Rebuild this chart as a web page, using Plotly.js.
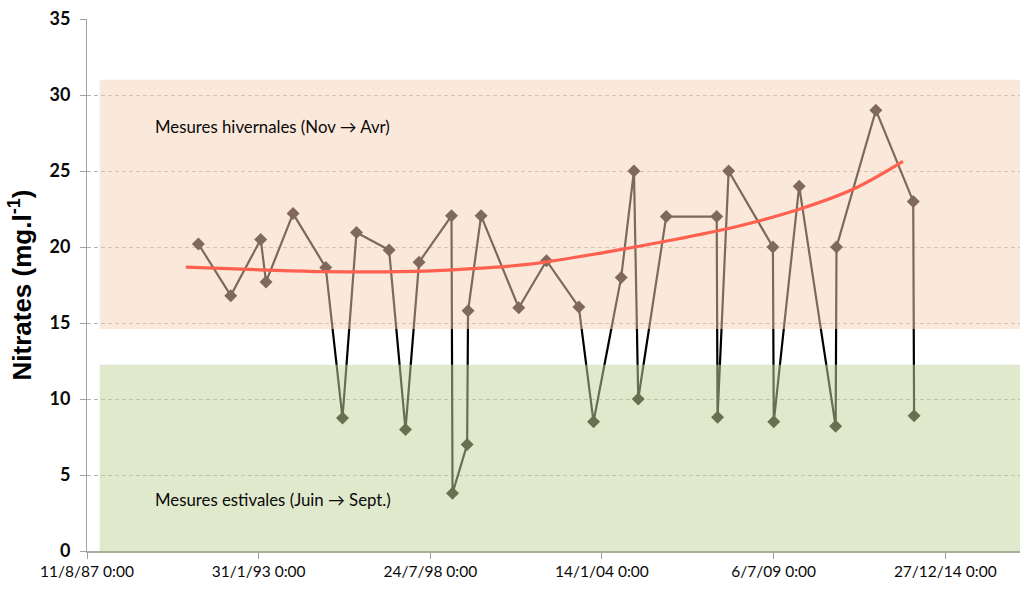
<!DOCTYPE html>
<html><head><meta charset="utf-8">
<script src="https://cdn.plot.ly/plotly-3.0.1.min.js"></script>
<style>html,body{margin:0;padding:0;background:#fff}#chart{width:1024px;height:589px}</style>
</head><body><div id="chart"></div>
<script>
// Nitrate measurements (date, mg/l)
const sampleDates = ['1991-03-01','1992-03-12','1993-02-24','1993-04-27','1994-03-08','1995-03-24','1995-10-05','1996-03-16','1997-03-31','1997-10-08','1998-03-15','1999-03-28','1999-04-09','1999-09-26','1999-10-07','2000-03-07','2001-05-20','2002-04-08','2003-04-20','2003-10-08','2004-08-25','2005-01-21','2005-03-12','2006-02-01','2007-09-12','2007-09-22','2008-01-29','2009-06-28','2009-07-08','2010-04-30','2011-06-29','2011-07-09','2012-10-10','2013-12-19','2013-12-29'];
const nitrates = [20.2,16.8,20.5,17.7,22.2,18.65,8.75,20.95,19.8,8.0,19.0,22.05,3.8,7.0,15.8,22.05,16.0,19.1,16.05,8.5,18.0,25.0,10.0,22.0,22.0,8.8,25.0,20.0,8.5,24.0,8.2,20.0,29.0,23.0,8.9];
// Trend curve
const trendDates = ['1990-10-05','1993-02-13','1995-03-12','1997-08-02','1999-08-29','2001-09-26','2004-02-17','2006-07-11','2008-06-09','2010-05-08','2012-01-16','2013-08-21'];
const trendValues = [18.67,18.5,18.38,18.38,18.55,18.87,19.65,20.56,21.4,22.5,23.8,25.64];
// Seasonal bands
const winterBand = [14.6, 31];
const summerBand = [0, 12.25];
const bandX = ['1988-01-06', '2018-06-01'];
const winterLabel = 'Mesures hivernales (Nov \u2192 Avr)';
const summerLabel = 'Mesures estivales (Juin \u2192 Sept.)';
const xRange = ['1987-08-11', '2017-05-16'];
const yTitle = 'Nitrates (mg.l<sup>-1</sup>)';

function band(range, color) {
  return {
    x: [bandX[0], bandX[1], bandX[1], bandX[0], bandX[0]],
    y: [range[0], range[0], range[1], range[1], range[0]],
    type: 'scatter', mode: 'none', fill: 'toself', fillcolor: color,
    hoverinfo: 'skip', showlegend: false
  };
}

const traces = [
  {
    x: sampleDates, y: nitrates, type: 'scatter', mode: 'lines+markers',
    line: {color: '#000000', width: 2.2},
    marker: {symbol: 'diamond', size: 10, color: '#0a0000'},
    showlegend: false
  },
  band(winterBand, 'rgba(246,210,182,0.5)'),
  band(summerBand, 'rgba(196,212,157,0.52)'),
  {
    x: trendDates, y: trendValues, type: 'scatter', mode: 'lines',
    line: {color: 'rgb(255,96,80)', width: 3.2, shape: 'spline', smoothing: 1},
    showlegend: false, hoverinfo: 'skip'
  }
];

const layout = {
  width: 1024, height: 589,
  margin: {l: 87, r: 4, t: 19, b: 38},
  paper_bgcolor: '#ffffff', plot_bgcolor: '#ffffff',
  showlegend: false,
  font: {family: 'Lato, sans-serif', color: '#111111'},
  xaxis: {
    type: 'date', range: xRange,
    tick0: '1987-08-11', dtick: 2000 * 86400000,
    tickformat: '%-d/%-m/%y %-H:%M',
    showgrid: false, zeroline: false,
    showline: true, linecolor: '#a9ad9c', linewidth: 1.5,
    ticks: 'outside', ticklen: 6, tickcolor: '#a0a0a0',
    tickfont: {family: 'Lato, sans-serif', size: 15.5, color: '#0a0a0a'}
  },
  yaxis: {
    range: [0, 35], dtick: 5, tick0: 0,
    showgrid: true, gridcolor: '#b4b4b4', gridwidth: 1, griddash: '4px,3px',
    zeroline: false,
    showline: true, linecolor: '#a0a0a0', linewidth: 1,
    ticks: 'outside', ticklen: 6, tickcolor: '#a0a0a0',
    ticklabelstandoff: 6,
    tickfont: {family: 'Lato, sans-serif', size: 18, color: '#0a0a0a', weight: 'bold'},
    title: {text: yTitle, standoff: 10, font: {family: 'Liberation Sans, Arial, sans-serif', size: 26, color: '#000000', weight: 'bold'}}
  },
  annotations: [
    {x: '1989-09-16', y: 27.9, xref: 'x', yref: 'y', xanchor: 'left', yanchor: 'middle', showarrow: false,
     text: winterLabel, font: {family: 'Lato, sans-serif', size: 16.8, color: '#0a0a0a'}},
    {x: '1989-09-16', y: 3.36, xref: 'x', yref: 'y', xanchor: 'left', yanchor: 'middle', showarrow: false,
     text: summerLabel, font: {family: 'Lato, sans-serif', size: 16.8, color: '#0a0a0a'}}
  ]
};

Plotly.newPlot('chart', traces, layout, {displayModeBar: false, staticPlot: true});
</script>
</body></html>
